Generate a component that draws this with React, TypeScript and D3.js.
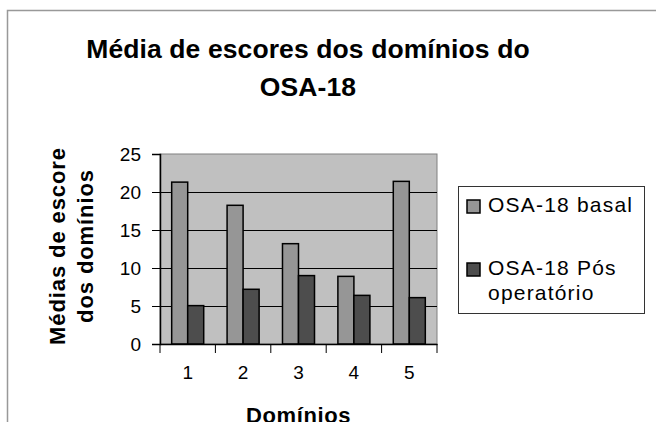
import React, { useEffect, useRef } from 'react';
import * as d3 from 'd3';

const dominios = ['1', '2', '3', '4', '5'];
const seriesNames = ['OSA-18 basal', 'OSA-18 Pós operatório'];
const basal = [21.3, 18.25, 13.2, 8.9, 21.4];
const posOperatorio = [5.05, 7.2, 9.0, 6.4, 6.1];
const yTicks = [0, 5, 10, 15, 20, 25];

const W = 656;
const H = 422;
const FONT = "'Liberation Sans', Arial, sans-serif";
const colors = ['#969696', '#4d4d4d'];

export default function App() {
  const svgRef = useRef<SVGSVGElement>(null);

  useEffect(() => {
    if (!svgRef.current) return;
    const svg = d3.select(svgRef.current);
    svg.selectAll('*').remove();

    // plot area
    const plot = { left: 160, right: 437, top: 154, bottom: 344 };

    const x0 = d3.scaleBand().domain(dominios).range([plot.left, plot.right]).padding(0);
    const x1 = d3.scaleBand().domain(seriesNames).range([0, x0.bandwidth()])
      .paddingInner(0).paddingOuter(0.73);
    const y = d3.scaleLinear().domain([0, 25]).range([plot.bottom, plot.top]);

    // outer chart border
    svg.append('path')
      .attr('d', `M7.5,${H} V10.5 H${W}`)
      .attr('fill', 'none')
      .attr('stroke', '#999')
      .attr('stroke-width', 1.5);

    // title
    const title = svg.append('text')
      .attr('text-anchor', 'middle')
      .attr('font-family', FONT)
      .attr('font-weight', 'bold')
      .attr('font-size', 26.5)
      .attr('letter-spacing', 0.1)
      .attr('fill', '#000');
    title.append('tspan').attr('x', 308).attr('y', 58).text('Média de escores dos domínios do');
    title.append('tspan').attr('x', 308).attr('y', 96).text('OSA-18');

    // plot background
    svg.append('rect')
      .attr('x', plot.left)
      .attr('y', plot.top)
      .attr('width', plot.right - plot.left)
      .attr('height', plot.bottom - plot.top)
      .attr('fill', '#c0c0c0')
      .attr('stroke', '#808080')
      .attr('stroke-width', 1);

    // gridlines
    svg.append('g')
      .selectAll('line')
      .data(yTicks.filter(t => t > 0 && t < 25))
      .join('line')
      .attr('x1', plot.left)
      .attr('x2', plot.right)
      .attr('y1', d => Math.round(y(d)) + 0.5)
      .attr('y2', d => Math.round(y(d)) + 0.5)
      .attr('stroke', '#000')
      .attr('stroke-width', 1);

    // bars
    const data = dominios.map((d, i) => ({ d, values: [basal[i], posOperatorio[i]] }));
    const groups = svg.append('g')
      .selectAll('g')
      .data(data)
      .join('g')
      .attr('transform', d => `translate(${x0(d.d)},0)`);

    groups.selectAll('rect')
      .data(d => d.values.map((v, k) => ({ key: seriesNames[k], v, k })))
      .join('rect')
      .attr('x', d => x1(d.key)!)
      .attr('y', d => y(d.v))
      .attr('width', x1.bandwidth())
      .attr('height', d => y(0) - y(d.v))
      .attr('fill', d => colors[d.k])
      .attr('stroke', '#000')
      .attr('stroke-width', 1.5);

    // y axis
    const yAxis = svg.append('g')
      .attr('transform', `translate(${plot.left},0)`)
      .call(d3.axisLeft(y).tickValues(yTicks).tickSize(8).tickPadding(11));
    yAxis.select('.domain').attr('stroke', '#000').attr('stroke-width', 1.5);
    yAxis.selectAll('line').attr('stroke', '#000');
    yAxis.selectAll('text')
      .attr('font-family', FONT)
      .attr('font-size', 19)
      .attr('fill', '#000');

    // x axis
    const xAxis = svg.append('g')
      .attr('transform', `translate(0,${plot.bottom})`)
      .call(d3.axisBottom(x0).tickSize(0).tickPadding(22));
    xAxis.select('.domain').attr('stroke', '#000').attr('stroke-width', 1.5);
    xAxis.selectAll('text')
      .attr('font-family', FONT)
      .attr('font-size', 19)
      .attr('fill', '#000');
    // category boundary ticks
    const bounds = dominios.map(d => x0(d)!).concat([plot.right]);
    xAxis.append('g')
      .selectAll('line')
      .data(bounds)
      .join('line')
      .attr('x1', d => d)
      .attr('x2', d => d)
      .attr('y1', 0)
      .attr('y2', 9)
      .attr('stroke', '#000')
      .attr('stroke-width', 1);

    // axis titles
    svg.append('text')
      .attr('x', (plot.left + plot.right) / 2)
      .attr('y', 423)
      .attr('text-anchor', 'middle')
      .attr('font-family', FONT)
      .attr('font-weight', 'bold')
      .attr('font-size', 22)
      .attr('letter-spacing', 0.6)
      .text('Domínios');

    const yTitle = svg.append('text')
      .attr('transform', `translate(0,246) rotate(-90)`)
      .attr('text-anchor', 'middle')
      .attr('font-family', FONT)
      .attr('font-weight', 'bold')
      .attr('font-size', 22)
      .attr('letter-spacing', 0.9);
    yTitle.append('tspan').attr('x', 0).attr('y', 65).text('Médias de escore');
    yTitle.append('tspan').attr('x', 0).attr('y', 93).text('dos domínios');

    // legend
    const legend = svg.append('g');
    legend.append('rect')
      .attr('x', 458.5)
      .attr('y', 186.5)
      .attr('width', 186)
      .attr('height', 127)
      .attr('fill', '#fff')
      .attr('stroke', '#333')
      .attr('stroke-width', 1);

    const legendRows = [
      { lines: ['OSA-18 basal'], top: 200 },
      { lines: ['OSA-18 Pós', 'operatório'], top: 263 },
    ];
    legendRows.forEach((row, i) => {
      legend.append('rect')
        .attr('x', 467)
        .attr('y', row.top)
        .attr('width', 13)
        .attr('height', 13)
        .attr('fill', colors[i])
        .attr('stroke', '#000')
        .attr('stroke-width', 1.5);
      const t = legend.append('text')
        .attr('font-family', FONT)
        .attr('font-size', 21)
        .attr('letter-spacing', 1.2)
        .attr('fill', '#000');
      row.lines.forEach((line, j) => {
        t.append('tspan')
          .attr('x', 488)
          .attr('y', row.top + 12 + j * 25)
          .text(line);
      });
    });
  }, []);

  return (
    <div style={{ position: 'fixed', left: 0, top: 0, width: W, height: H, background: '#fff' }}>
      <svg ref={svgRef} width={W} height={H} style={{ display: 'block' }}></svg>
    </div>
  );
}
